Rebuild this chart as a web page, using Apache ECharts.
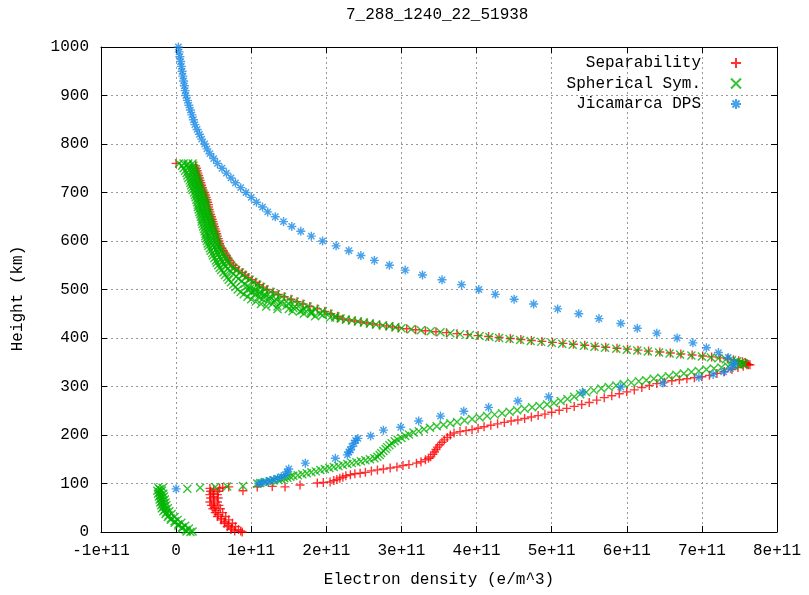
<!DOCTYPE html>
<html><head><meta charset="utf-8">
<script src="https://cdn.jsdelivr.net/npm/echarts/dist/echarts.min.js"></script>
<style>html,body{margin:0;padding:0;background:#fff}#c{width:809px;height:595px}</style>
</head><body><div id="c"></div>
<script>
// ---------- texts ----------
const titleText = '7_288_1240_22_51938';
const xName = 'Electron density (e/m^3)';
const yName = 'Height (km)';
const seriesNames = ['Separability', 'Spherical Sym.', 'Jicamarca DPS'];
// x in units of 1e11 e/m^3, heights in km
const xTickLabels = ['-1e+11','0','1e+11','2e+11','3e+11','4e+11','5e+11','6e+11','7e+11','8e+11'];
const xMin = -1, xMax = 8, xStep = 1;
const yMin = 0, yMax = 1000, yStep = 100;

// ---------- Separability (red +) : [x, h] ----------
const sepLow = [[0.45,90],[0.58,90],[0.50,87],[0.46,84],[0.56,84],[0.49,80],[0.45,77],[0.55,77],[0.50,73],[0.46,70],[0.56,70],[0.50,66],[0.45,62],[0.55,62],[0.50,58],[0.47,55],[0.57,55],[0.51,51],[0.49,48],[0.59,48],[0.53,44],[0.52,40],[0.62,40],[0.56,36],[0.55,32],[0.66,32],[0.60,28],[0.60,25],[0.70,25],[0.65,21],[0.64,18],[0.75,18],[0.70,14],[0.68,11],[0.79,11],[0.74,8],[0.73,5],[0.83,5],[0.78,2],[0.86,2],[0.88,0]];
const sepRow = [[0.62,92],[0.70,93],[0.89,85],[1.08,93],[1.28,94],[1.45,93],[1.65,97],[1.88,101],[1.96,102]];
const sepRise = [[2.05,103],[2.10,106],[2.14,108],[2.18,111],[2.22,113],[2.26,116],[2.32,118],[2.38,120],[2.45,121],[2.52,123],[2.60,126],[2.68,128],[2.76,130],[2.85,132],[2.94,134],[3.02,137],[3.10,139],[3.20,142],[3.26,145],[3.32,149],[3.36,152],[3.39,155],[3.42,160],[3.44,165],[3.46,170],[3.48,175],[3.51,180],[3.54,185],[3.57,190],[3.61,195],[3.65,200],[3.70,204],[3.78,207],[3.86,209],[3.94,211],[4.02,214],[4.10,217],[4.19,220],[4.28,223],[4.37,226],[4.46,229],[4.55,231],[4.64,234],[4.73,237],[4.82,240],[4.91,243],[5.00,247],[5.10,251],[5.20,255],[5.30,259],[5.40,263],[5.50,267],[5.60,272],[5.70,277],[5.80,281],[5.90,285],[6.00,289],[6.10,293],[6.20,298],[6.30,302],[6.40,306],[6.50,309],[6.60,312],[6.70,314],[6.80,316],[6.90,318],[7.00,320],[7.10,323],[7.20,327],[7.30,331],[7.40,335],[7.48,339],[7.55,342],[7.60,345],[7.64,345],[7.58,348]];
const sepTopFlat = [[2.15,441],[2.22,439],[2.30,437],[2.38,435],[2.46,433],[2.54,431],[2.62,429],[2.71,427],[2.80,425],[2.88,423],[2.96,421],[3.07,419],[3.19,417],[3.32,415],[3.46,413],[3.60,411],[3.74,409],[3.88,407],[4.02,405],[4.16,403],[4.30,401],[4.45,399],[4.59,397],[4.73,395],[4.87,393],[5.01,391],[5.15,389],[5.29,387],[5.44,385],[5.58,383],[5.72,381],[5.87,379],[6.01,377],[6.15,375],[6.29,373],[6.44,371],[6.58,369],[6.72,367],[6.87,365],[7.01,363],[7.13,361],[7.24,359],[7.34,357],[7.42,355],[7.49,353],[7.54,351],[7.58,349],[7.60,347],[7.62,345]];
const sepTopSteep = [[0.00,760],[0.26,755],[0.27,750],[0.28,745],[0.29,740],[0.30,735],[0.31,730],[0.32,725],[0.33,720],[0.34,715],[0.35,710],[0.36,705],[0.38,700],[0.39,695],[0.40,690],[0.41,685],[0.42,680],[0.43,675],[0.43,670],[0.44,665],[0.45,660],[0.46,655],[0.47,650],[0.48,645],[0.49,640],[0.50,635],[0.51,630],[0.52,625],[0.53,620],[0.54,615],[0.55,610],[0.56,605],[0.57,600],[0.58,595],[0.59,590],[0.61,585],[0.63,580],[0.65,575],[0.67,570],[0.69,565],[0.71,560],[0.73,555],[0.76,550],[0.79,545],[0.83,540],[0.88,535],[0.92,530],[0.96,525],[1.01,520],[1.06,515],[1.11,510],[1.16,505],[1.21,500],[1.29,495],[1.36,490],[1.44,485],[1.53,480],[1.61,475],[1.69,470],[1.78,465],[1.88,460],[1.98,455],[2.06,450],[2.15,445]];

// ---------- Spherical Sym. (green x) ----------
const sphLow = [[-0.24,92],[-0.18,91],[-0.22,88],[-0.25,85],[-0.19,85],[-0.22,82],[-0.24,79],[-0.17,79],[-0.21,76],[-0.23,73],[-0.16,73],[-0.20,70],[-0.22,67],[-0.15,67],[-0.19,64],[-0.21,61],[-0.14,61],[-0.18,58],[-0.20,55],[-0.13,55],[-0.17,52],[-0.19,49],[-0.11,49],[-0.15,46],[-0.17,43],[-0.09,43],[-0.13,40],[-0.14,37],[-0.06,37],[-0.10,34],[-0.11,31],[-0.02,31],[-0.07,28],[-0.07,25],[0.02,25],[-0.02,22],[-0.02,19],[0.07,19],[0.03,16],[0.03,13],[0.12,13],[0.08,10],[0.08,7],[0.17,7],[0.13,4],[0.14,1],[0.22,1],[0.19,0]];
const sphRow = [[0.15,89],[0.32,91],[0.52,93],[0.68,94],[0.89,95],[1.08,100]];
const sphRise = [[1.12,101],[1.18,103],[1.25,104],[1.30,106],[1.36,107],[1.40,109],[1.44,111],[1.48,112],[1.52,114],[1.56,116],[1.62,117],[1.68,119],[1.74,121],[1.80,123],[1.86,125],[1.92,128],[1.98,130],[2.04,132],[2.10,134],[2.16,136],[2.22,138],[2.28,140],[2.34,142],[2.40,144],[2.46,146],[2.52,148],[2.58,150],[2.64,152],[2.68,155],[2.71,159],[2.73,163],[2.76,167],[2.79,171],[2.81,175],[2.84,179],[2.87,183],[2.91,187],[2.95,190],[3.00,194],[3.05,198],[3.10,201],[3.16,205],[3.23,208],[3.30,212],[3.38,215],[3.47,218],[3.56,221],[3.65,224],[3.74,227],[3.84,230],[3.94,233],[4.04,236],[4.14,239],[4.24,242],[4.34,245],[4.44,248],[4.54,251],[4.64,254],[4.74,257],[4.84,260],[4.94,263],[5.03,266],[5.12,270],[5.21,274],[5.30,279],[5.38,284],[5.46,288],[5.56,292],[5.66,296],[5.76,299],[5.86,302],[5.96,305],[6.06,308],[6.16,311],[6.26,313],[6.36,316],[6.46,318],[6.56,321],[6.66,324],[6.76,327],[6.86,330],[6.96,332],[7.06,335],[7.16,337],[7.26,339],[7.35,341],[7.43,343],[7.50,345]];
const sphTopFlat = [[2.12,442],[2.19,440],[2.26,438],[2.34,436],[2.42,434],[2.50,432],[2.58,430],[2.66,428],[2.75,426],[2.84,424],[2.92,422],[3.00,420],[3.13,418],[3.26,416],[3.39,414],[3.52,412],[3.65,410],[3.78,408],[3.91,406],[4.04,404],[4.17,402],[4.30,400],[4.44,398],[4.58,396],[4.72,394],[4.86,392],[5.00,390],[5.14,388],[5.28,386],[5.43,384],[5.57,382],[5.71,380],[5.86,378],[6.00,376],[6.14,374],[6.28,372],[6.43,370],[6.57,368],[6.71,366],[6.86,364],[7.00,362],[7.12,360],[7.22,358],[7.32,356],[7.40,354],[7.47,352],[7.52,350],[7.55,348],[7.57,346]];
const sphTopCap = [[0.04,760],[0.10,760],[0.16,760],[0.22,760]];
// [height, left edge x, right edge x] of the thick band
const sphTopSteep = [[755,0.08,0.23],[750,0.10,0.24],[745,0.12,0.25],[740,0.14,0.26],[735,0.15,0.27],[730,0.16,0.28],[725,0.18,0.29],[720,0.19,0.30],[715,0.20,0.31],[710,0.21,0.32],[705,0.22,0.33],[700,0.24,0.35],[695,0.25,0.36],[690,0.26,0.37],[685,0.27,0.38],[680,0.28,0.39],[675,0.29,0.40],[670,0.29,0.40],[665,0.30,0.41],[660,0.31,0.42],[655,0.32,0.43],[650,0.33,0.44],[645,0.34,0.45],[640,0.34,0.46],[635,0.35,0.47],[630,0.36,0.48],[625,0.37,0.49],[620,0.38,0.50],[615,0.39,0.51],[610,0.39,0.52],[605,0.40,0.53],[600,0.41,0.54],[595,0.42,0.55],[590,0.43,0.56],[585,0.45,0.58],[580,0.46,0.60],[575,0.48,0.62],[570,0.49,0.64],[565,0.51,0.66],[560,0.53,0.68],[555,0.54,0.70],[550,0.56,0.73],[545,0.58,0.76],[540,0.60,0.80],[535,0.63,0.85],[530,0.65,0.89],[525,0.68,0.93],[520,0.70,0.98],[515,0.73,1.03],[510,0.76,1.08],[505,0.79,1.13],[500,0.82,1.18],[495,0.86,1.26],[490,0.90,1.33],[485,0.95,1.41],[480,1.00,1.50],[475,1.06,1.58],[470,1.13,1.66],[465,1.20,1.75],[460,1.35,1.85],[455,1.55,1.95],[450,1.70,2.03],[445,1.85,2.12]];
// centre readings of the band, between the rows above: [x, h]
const sphTopMid = [[0.15,757],[0.17,752],[0.18,747],[0.20,742],[0.21,737],[0.22,732],[0.23,727],[0.24,722],[0.25,717],[0.26,712],[0.27,707],[0.29,702],[0.30,697],[0.31,692],[0.32,687],[0.33,682],[0.34,677],[0.35,672],[0.35,667],[0.36,662],[0.37,657],[0.38,652],[0.39,647],[0.40,642],[0.41,637],[0.42,632],[0.43,627],[0.44,622],[0.45,617],[0.45,612],[0.46,607],[0.47,602],[0.48,597],[0.49,592],[0.51,587],[0.53,582],[0.55,577],[0.56,572],[0.58,567],[0.60,562],[0.62,557],[0.64,552],[0.66,547],[0.69,542],[0.73,537],[0.76,532],[0.80,527],[0.83,522],[0.87,517],[0.91,512],[0.95,507],[0.99,502],[1.05,497],[1.11,492],[1.17,487],[1.24,482],[1.31,477],[1.39,472],[1.47,467],[1.56,462],[1.68,457],[1.80,452],[1.95,447],[2.05,442]];
// extra readings inside the wide knee of the band: [x, h]
const sphKnee = [[0.95,500],[1.05,500],[1.00,495],[1.12,495],[1.05,490],[1.18,490],[1.10,485],[1.25,485],[1.15,480],[1.33,480],[1.22,475],[1.40,475],[1.28,470],[1.50,470],[1.35,465],[1.58,465],[1.50,460],[1.70,460],[1.65,455],[1.80,455],[1.80,450],[1.92,450]];

// ---------- Jicamarca DPS (blue *) ----------
const dpsTop = [[0.03,1000],[0.04,990],[0.05,980],[0.06,970],[0.07,960],[0.08,950],[0.09,940],[0.10,930],[0.11,920],[0.12,910],[0.13,900],[0.15,890],[0.17,880],[0.19,870],[0.21,860],[0.23,850],[0.25,840],[0.28,830],[0.31,820],[0.34,810],[0.38,800],[0.41,790],[0.45,780],[0.50,770],[0.55,760],[0.61,750],[0.67,740],[0.73,730],[0.79,720],[0.86,710],[0.93,700],[1.00,690],[1.07,680],[1.15,670],[1.22,660],[1.32,650],[1.43,640],[1.54,630],[1.66,620],[1.80,610],[1.95,600],[2.13,590],[2.30,580],[2.46,570],[2.64,560],[2.84,550],[3.05,540],[3.28,530],[3.54,520],[3.80,510],[4.03,500],[4.25,490],[4.50,480],[4.76,470],[5.08,460],[5.36,450],[5.63,440],[5.92,430],[6.14,420],[6.40,410],[6.67,400],[6.88,390],[7.06,380],[7.22,370],[7.35,360],[7.43,350]];
const dpsBottom = [[0.00,89],[1.10,100],[1.15,102],[1.20,104],[1.25,106],[1.30,108],[1.35,111],[1.40,114],[1.45,118],[1.48,124],[1.50,130],[1.72,142],[2.12,152],[2.28,159],[2.30,165],[2.32,169],[2.34,176],[2.37,183],[2.39,189],[2.42,193],[2.59,198],[2.76,210],[2.99,216],[3.23,229],[3.52,239],[3.83,249],[4.16,257],[4.55,270],[4.96,279],[5.41,288],[5.92,299],[6.48,307],[6.96,319],[7.15,325],[7.29,330],[7.38,337],[7.43,344]];

// ---------- build ----------
const FONT = '"Liberation Mono", "DejaVu Sans Mono", monospace';
const colors = ['#ff0000', '#00b400', '#1a8ae6'];
const symPlus = 'path://M0,5L10,5M5,0L5,10';
const symCross = 'path://M0,0L10,10M0,10L10,0';
const symStar = 'path://M0,5L10,5M5,0L5,10M1.5,1.5L8.5,8.5M1.5,8.5L8.5,1.5';

const sepData = [].concat(sepLow, sepRow, sepRise, sepTopFlat, sepTopSteep);
const sphData = [].concat(sphLow, sphRow, sphRise, sphTopFlat, sphTopCap, sphTopMid, sphKnee);
sphTopSteep.forEach(r => { sphData.push([r[1], r[0]]); sphData.push([r[2], r[0]]); });
const dpsData = [].concat(dpsBottom, dpsTop);

function mkSeries(name, data, symbol, color, size) {
  return {
    name, type: 'scatter', data, symbol, symbolSize: size,
    xAxisIndex: 0, yAxisIndex: 0,
    itemStyle: { color: 'rgba(0,0,0,0)', borderColor: color, borderWidth: 1.4 },
    emphasis: { disabled: true }, silent: true, animation: false
  };
}

const chart = echarts.init(document.getElementById('c'), null, { renderer: 'canvas' });
const axisBase = {
  type: 'value',
  axisLine: { show: true, onZero: false, lineStyle: { color: '#000', width: 1 } },
  axisTick: { show: true, inside: true, length: 6, lineStyle: { color: '#000' } },
  splitLine: { show: false },
  axisLabel: { show: false }
};
chart.setOption({
  animation: false,
  backgroundColor: '#fff',
  title: {
    text: titleText, left: 346, top: 7, padding: 0,
    textStyle: { fontFamily: FONT, fontSize: 16, fontWeight: 'normal', color: '#000' }
  },
  legend: {
    orient: 'vertical', right: 67, top: 55, padding: 0, align: 'right',
    itemWidth: 10, itemHeight: 10, itemGap: 4.5, selectedMode: false,
    textStyle: { fontFamily: FONT, fontSize: 16, color: '#000', lineHeight: 16, padding: [0, 25, 0, 0] },
    data: seriesNames
  },
  grid: { left: 101, right: 32, top: 47, bottom: 63, containLabel: false, outerBoundsMode: 'none' },
  xAxis: [
    Object.assign({}, axisBase, {
      position: 'bottom', min: xMin, max: xMax, interval: xStep,
      name: xName, nameLocation: 'middle', nameGap: 40,
      nameTextStyle: { fontFamily: FONT, fontSize: 16, color: '#000' },
      axisLabel: { show: true, margin: 11, fontFamily: FONT, fontSize: 16, color: '#000',
        formatter: v => xTickLabels[Math.round((v - xMin) / xStep)] },
      splitLine: { show: true, lineStyle: { color: '#999', type: [2, 3], width: 1 } }
    }),
    Object.assign({}, axisBase, { position: 'top', min: xMin, max: xMax, interval: xStep })
  ],
  yAxis: [
    Object.assign({}, axisBase, {
      position: 'left', min: yMin, max: yMax, interval: yStep,
      name: yName, nameLocation: 'middle', nameGap: 75,
      nameTextStyle: { fontFamily: FONT, fontSize: 16, color: '#000', padding: [0, 18, 0, 0] },
      axisLabel: { show: true, margin: 12, fontFamily: FONT, fontSize: 16, color: '#000',
        formatter: v => String(v) },
      splitLine: { show: true, lineStyle: { color: '#999', type: [2, 3], width: 1 } }
    }),
    Object.assign({}, axisBase, { position: 'right', min: yMin, max: yMax, interval: yStep })
  ],
  series: [
    mkSeries(seriesNames[0], sepData, symPlus, colors[0], 9),
    mkSeries(seriesNames[1], sphData, symCross, colors[1], 8),
    mkSeries(seriesNames[2], dpsData, symStar, colors[2], 9)
  ]
});
</script></body></html>
